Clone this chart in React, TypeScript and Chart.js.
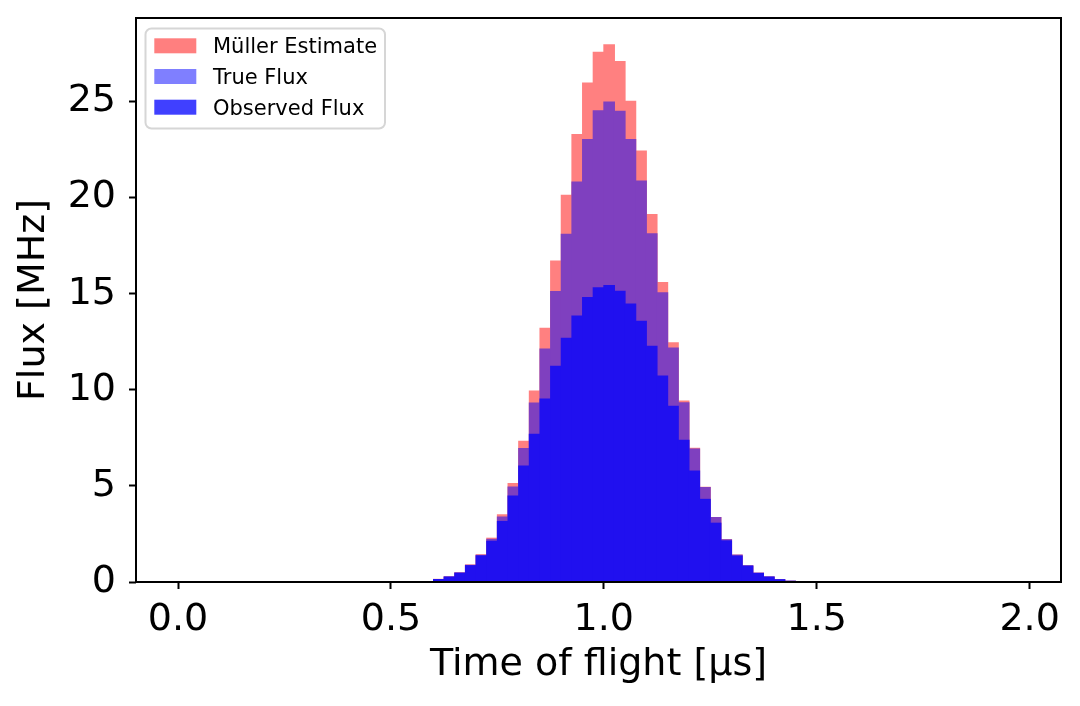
import React, { useEffect, useRef } from "react";
import { Chart, registerables } from "chart.js";

Chart.register(...registerables);

// Histogram bins (left edges, µs); bin width 0.025 µs
const BIN_LEFT_EDGES = [
  0.575, 0.6, 0.625, 0.65, 0.675, 0.7, 0.725, 0.75, 0.775, 0.8, 0.825, 0.85,
  0.875, 0.9, 0.925, 0.95, 0.975, 1.0, 1.025, 1.05, 1.075, 1.1, 1.125, 1.15,
  1.175, 1.2, 1.225, 1.25, 1.275, 1.3, 1.325, 1.35, 1.375, 1.4, 1.425, 1.45,
];
const BIN_WIDTH = 0.025;

const MULLER_ESTIMATE = [
  0.02, 0.14, 0.27, 0.48, 0.89, 1.42, 2.28, 3.5, 5.13, 7.32, 9.94, 13.2,
  16.7, 20.12, 23.28, 25.96, 27.56, 27.94, 27.08, 25.01, 22.42, 19.12, 15.58, 12.44,
  9.42, 6.96, 4.93, 3.36, 2.2, 1.4, 0.84, 0.46, 0.26, 0.12, 0.04, 0.01,
];
const TRUE_FLUX = [
  0.02, 0.13, 0.26, 0.47, 0.87, 1.39, 2.22, 3.38, 4.94, 6.94, 9.31, 12.12,
  15.11, 18.09, 20.81, 23.02, 24.51, 24.97, 24.49, 23.02, 20.86, 18.11, 15.04, 12.17,
  9.33, 6.92, 4.91, 3.35, 2.2, 1.4, 0.84, 0.46, 0.26, 0.12, 0.04, 0.01,
];
const OBSERVED_FLUX = [
  0.02, 0.13, 0.26, 0.46, 0.85, 1.36, 2.12, 3.15, 4.47, 6.04, 7.68, 9.52,
  11.22, 12.68, 13.84, 14.8, 15.3, 15.42, 15.12, 14.46, 13.56, 12.26, 10.72, 9.14,
  7.37, 5.78, 4.3, 3.06, 2.14, 1.35, 0.83, 0.45, 0.26, 0.12, 0.04, 0.01,
];

const X_TICKS = [0.0, 0.5, 1.0, 1.5, 2.0];
const Y_TICKS = [0, 5, 10, 15, 20, 25];

const X_MIN = -0.09875;
const X_MAX = 2.07375;

// Series colours (semi-transparent, as in the legend)
const LEGEND_COLORS = ["rgba(255,0,0,0.5)", "rgba(0,0,255,0.5)", "rgba(0,0,255,0.75)"];
// Resulting colours when the translucent histograms are layered on each other
const BAR_COLORS = ["#ff8080", "#7f40bf", "#2010ef"];

const FONT = "DejaVu Sans";

const toPoints = (vals: number[]) =>
  vals.map((y, i) => ({ x: BIN_LEFT_EDGES[i] + BIN_WIDTH / 2, y }));

const framePlugin = {
  id: "frame",
  afterDraw(chart: any) {
    const { ctx, chartArea } = chart;
    ctx.save();
    ctx.strokeStyle = "#000";
    ctx.lineWidth = 2;
    ctx.strokeRect(
      chartArea.left,
      chartArea.top,
      chartArea.right - chartArea.left,
      chartArea.bottom - chartArea.top
    );
    ctx.restore();
  },
};

const legendPlugin = {
  id: "mplLegend",
  afterDraw(chart: any) {
    const { ctx } = chart;
    const ds = chart.data.datasets;
    const x0 = 145.5;
    const y0 = 28.5;
    const w = 239.5;
    const h = 100;
    const r = 6;
    ctx.save();
    ctx.beginPath();
    ctx.moveTo(x0 + r, y0);
    ctx.lineTo(x0 + w - r, y0);
    ctx.arcTo(x0 + w, y0, x0 + w, y0 + r, r);
    ctx.lineTo(x0 + w, y0 + h - r);
    ctx.arcTo(x0 + w, y0 + h, x0 + w - r, y0 + h, r);
    ctx.lineTo(x0 + r, y0 + h);
    ctx.arcTo(x0, y0 + h, x0, y0 + h - r, r);
    ctx.lineTo(x0, y0 + r);
    ctx.arcTo(x0, y0, x0 + r, y0, r);
    ctx.closePath();
    ctx.fillStyle = "rgba(255,255,255,0.8)";
    ctx.fill();
    ctx.strokeStyle = "#d6d6d6";
    ctx.lineWidth = 2;
    ctx.stroke();
    ctx.font = `21px "${FONT}"`;
    ctx.textBaseline = "alphabetic";
    ctx.textAlign = "left";
    ds.forEach((d: any, i: number) => {
      const rowTop = 38.3 + i * 30.7;
      ctx.fillStyle = LEGEND_COLORS[i];
      ctx.fillRect(154.3, rowTop, 42, 15);
      ctx.fillStyle = "#000";
      ctx.fillText(d.label, 213, rowTop + 15);
    });
    ctx.restore();
  },
};

export default function App() {
  const ref = useRef<HTMLCanvasElement>(null);

  useEffect(() => {
    if (!ref.current) return;
    const yMax = Math.max(...MULLER_ESTIMATE) * 1.05;
    const chart = new Chart(ref.current, {
      type: "bar",
      data: {
        datasets: [
          {
            label: "Müller Estimate",
            data: toPoints(MULLER_ESTIMATE),
            backgroundColor: BAR_COLORS[0],
            order: 3,
          },
          {
            label: "True Flux",
            data: toPoints(TRUE_FLUX),
            backgroundColor: BAR_COLORS[1],
            order: 2,
          },
          {
            label: "Observed Flux",
            data: toPoints(OBSERVED_FLUX),
            backgroundColor: BAR_COLORS[2],
            order: 1,
          },
        ] as any,
      },
      options: {
        animation: false,
        responsive: false,
        devicePixelRatio: 1,
        layout: { padding: { left: 0, top: 18, right: 19, bottom: 0 } },
        datasets: {
          bar: {
            grouped: false,
            barPercentage: 1,
            categoryPercentage: 1,
            borderWidth: 0,
            inflateAmount: 0.5,
          },
        } as any,
        plugins: {
          legend: { display: false },
          tooltip: { enabled: false },
        },
        scales: {
          x: {
            type: "linear",
            min: X_MIN,
            max: X_MAX,
            offset: false,
            afterBuildTicks: (s: any) => {
              s.ticks = X_TICKS.map((value) => ({ value }));
            },
            afterFit: (s: any) => {
              s.height = 124;
              s.paddingLeft = 0;
              s.paddingRight = 0;
            },
            grid: {
              display: true,
              offset: false,
              drawOnChartArea: false,
              drawTicks: true,
              tickLength: 7,
              tickWidth: 2,
              tickColor: "#000",
            },
            border: { display: false },
            ticks: {
              color: "#000",
              font: { family: FONT, size: 38 },
              padding: 8,
              maxRotation: 0,
              autoSkip: false,
              callback: (v: any) => Number(v).toFixed(1),
            },
            title: {
              display: true,
              text: "Time of flight [µs]",
              color: "#000",
              font: { family: FONT, size: 38 },
              padding: { top: 0, bottom: 18 },
            },
          },
          y: {
            type: "linear",
            min: 0,
            max: yMax,
            afterBuildTicks: (s: any) => {
              s.ticks = Y_TICKS.map((value) => ({ value }));
            },
            afterFit: (s: any) => {
              s.width = 136;
              s.paddingTop = 0;
              s.paddingBottom = 0;
            },
            grid: {
              display: true,
              offset: false,
              drawOnChartArea: false,
              drawTicks: true,
              tickLength: 7,
              tickWidth: 2,
              tickColor: "#000",
            },
            border: { display: false },
            ticks: {
              color: "#000",
              font: { family: FONT, size: 38 },
              padding: 13,
              autoSkip: false,
              callback: (v: any) => String(v),
            },
            title: {
              display: true,
              text: "Flux [MHz]",
              color: "#000",
              font: { family: FONT, size: 38 },
              padding: { top: 11, bottom: 0 },
            },
          },
        },
      },
      plugins: [framePlugin, legendPlugin],
    });
    return () => chart.destroy();
  }, []);

  return (
    <div style={{ position: "absolute", left: 0, top: 0, width: 1080, height: 706, background: "#fff" }}>
      <canvas ref={ref} width={1080} height={706} />
    </div>
  );
}
